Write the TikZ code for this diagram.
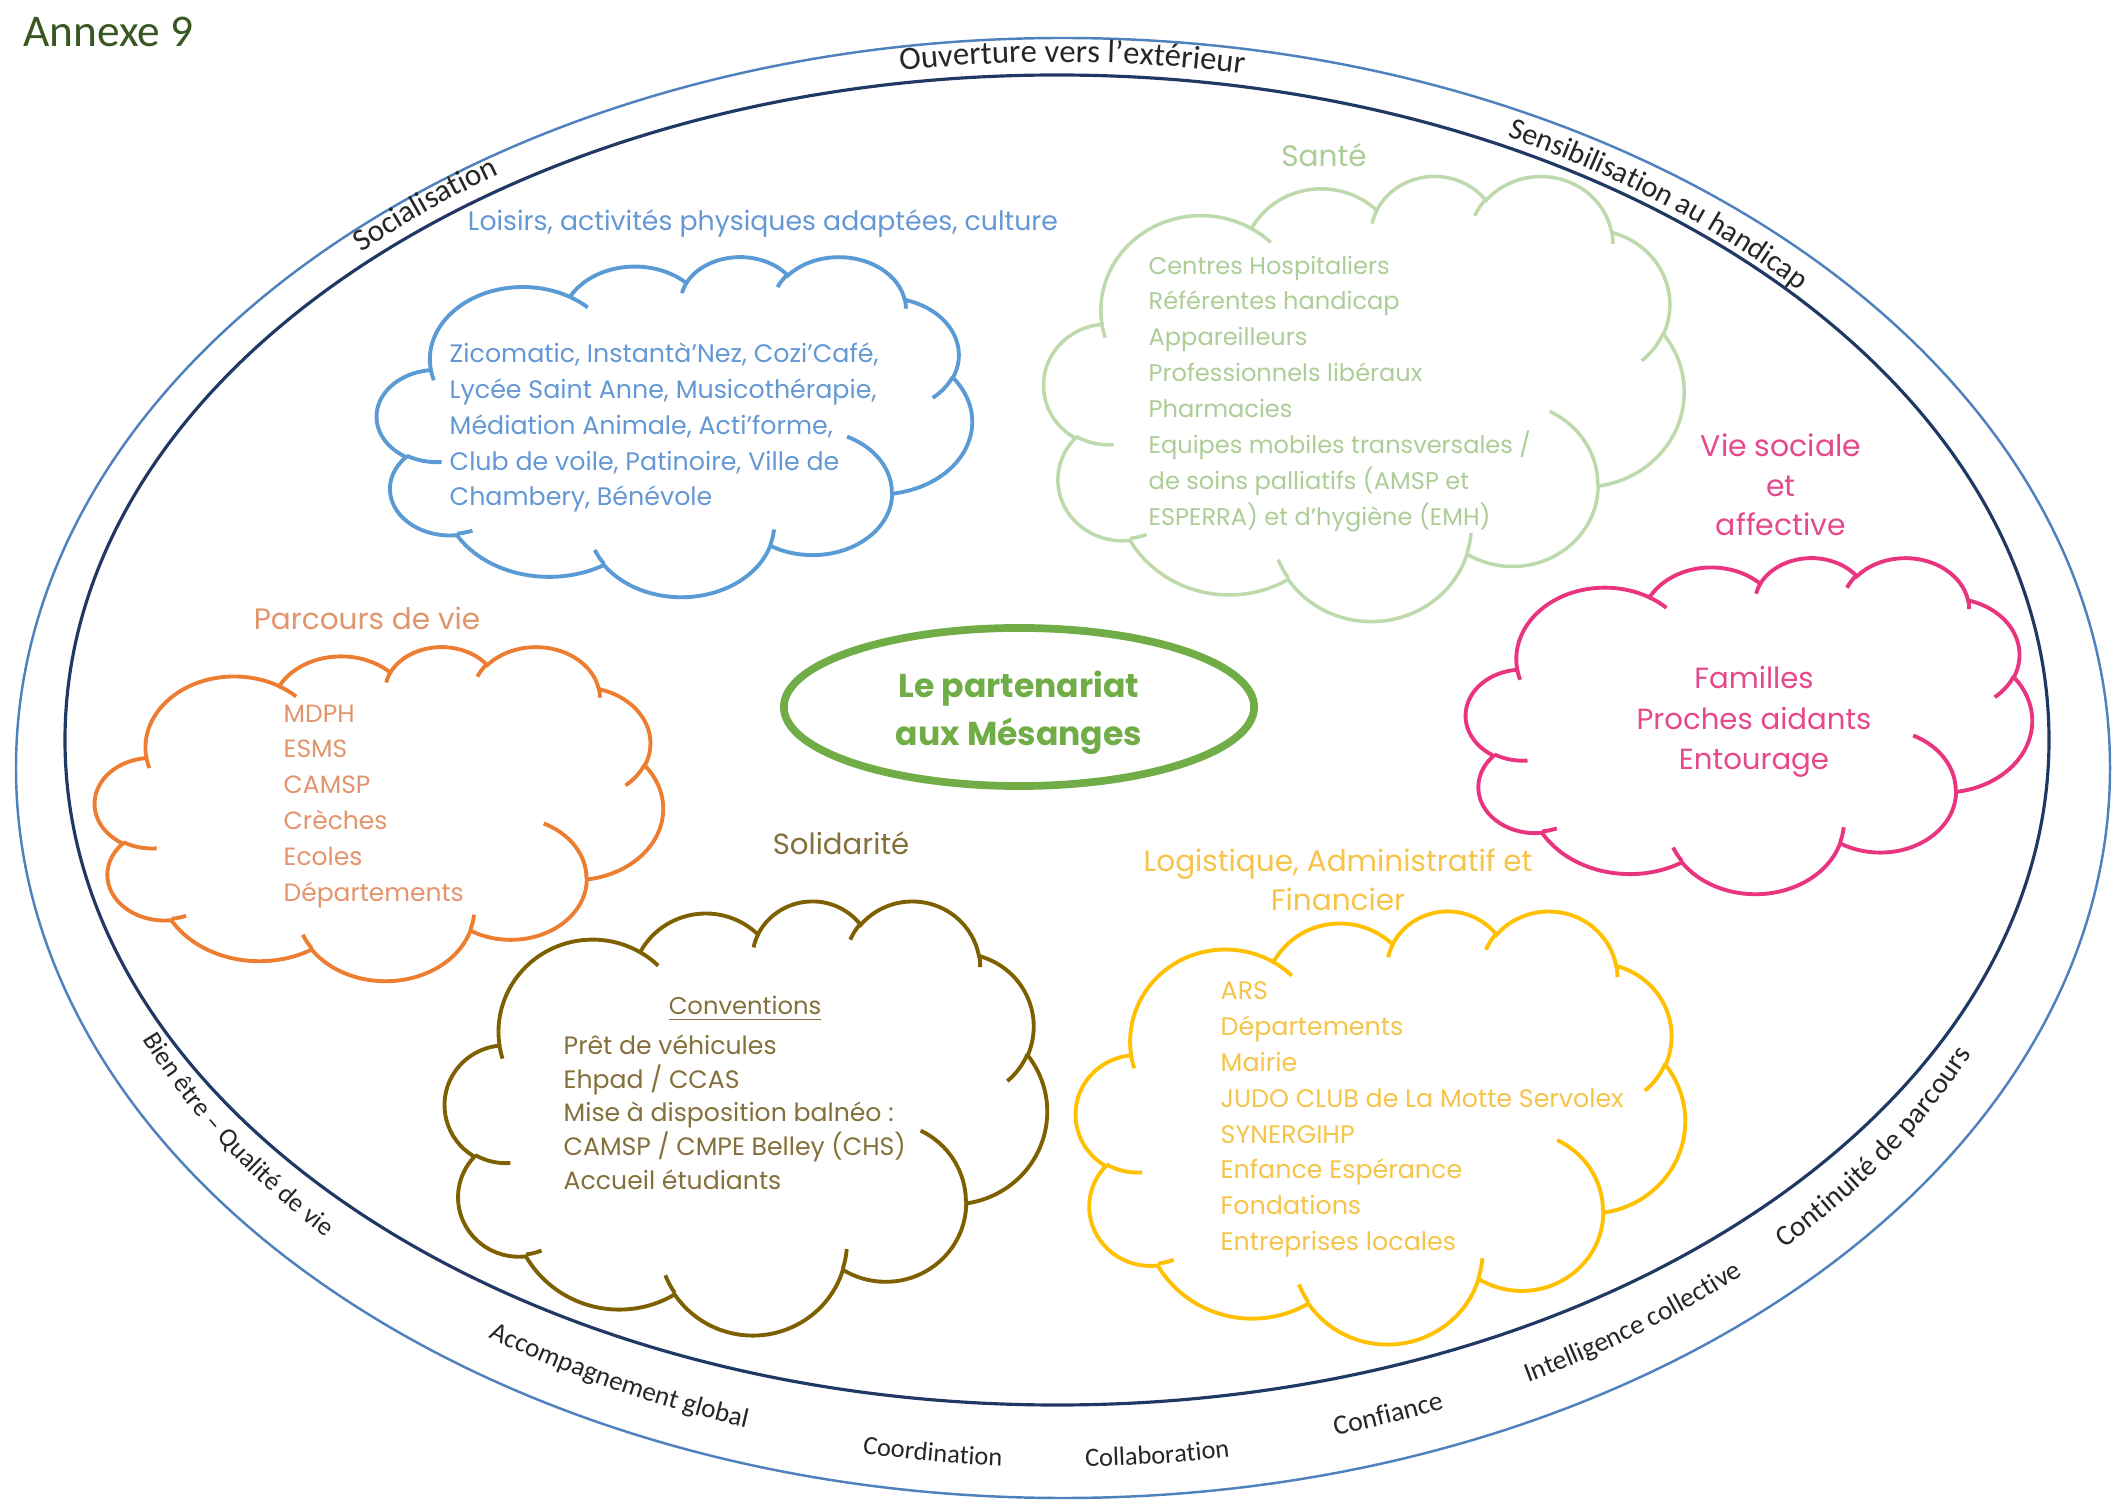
\documentclass[tikz,border=0pt]{standalone}
\usepackage{fontspec}
\setmainfont{Poppins}
\newfontfamily\cbf{Carlito}
\usetikzlibrary{decorations.text,shapes.geometric}

\definecolor{ringO}{RGB}{79,129,189}
\definecolor{ringI}{RGB}{31,56,100}
\definecolor{blueC}{RGB}{91,155,213}
\definecolor{blueT}{RGB}{100,152,212}
\definecolor{greenC}{RGB}{190,218,172}
\definecolor{greenT}{RGB}{172,205,150}
\definecolor{pinkC}{RGB}{233,52,128}
\definecolor{pinkT}{RGB}{230,72,140}
\definecolor{orangeC}{RGB}{237,125,49}
\definecolor{orangeT}{RGB}{226,148,108}
\definecolor{oliveC}{RGB}{127,96,0}
\definecolor{oliveT}{RGB}{132,112,58}
\definecolor{yellowC}{RGB}{255,192,0}
\definecolor{yellowT}{RGB}{245,196,72}
\definecolor{centerG}{RGB}{112,173,71}
\definecolor{annexG}{RGB}{56,87,35}

% visual (OOXML) angle -> parametric angle
\newcommand\defang[4]{%
  \pgfmathsetmacro\tmpA{atan2((#3)*sin(#2),(#4)*cos(#2))}%
  \pgfmathsetmacro\tmpB{\tmpA+360*round(((#2)-\tmpA)/360)}%
  \xdef#1{\tmpB}}
\defang\qsA{-190.48748}{6.753}{9.190}\defang\qeA{-66.70695}{6.753}{9.190}
\defang\qsB{-144.10238}{5.333}{7.267}\defang\qeB{-54.15715}{5.333}{7.267}
\defang\qsC{-145.80792}{4.365}{5.945}\defang\qeC{-46.08490}{4.365}{5.945}
\defang\qsD{-130.98607}{4.857}{6.595}\defang\qeD{-13.74434}{4.857}{6.595}
\defang\qsE{-78.70888}{5.333}{7.273}\defang\qeE{30.31804}{5.333}{7.273}
\defang\qsF{-46.26725}{6.775}{9.220}\defang\qeF{84.00175}{6.775}{9.220}
\defang\qsG{0.62502}{5.785}{7.867}\defang\qeG{114.65835}{5.785}{7.867}
\defang\qsH{22.45160}{6.752}{9.215}\defang\qeH{137.62415}{6.752}{9.215}
\defang\qsI{66.24263}{7.720}{10.543}\defang\qeI{141.95365}{7.720}{10.543}
\defang\qsJ{-274.94208}{4.360}{5.918}\defang\qeJ{-128.20651}{4.360}{5.918}
\defang\qsK{-246.82850}{4.345}{5.945}\defang\qeK{-94.30965}{4.345}{5.945}
\defang\hsA{86.74200}{4.345}{5.945}\defang\heA{113.17150}{4.345}{5.945}
\defang\hsB{73.61047}{4.360}{5.918}\defang\heB{85.05794}{4.360}{5.918}
\defang\hsC{137.62415}{6.752}{9.215}\defang\heC{151.70525}{6.752}{9.215}
\defang\hsD{6.45327}{6.752}{9.215}\defang\heD{22.45162}{6.752}{9.215}
\defang\hsE{-70.29235}{5.785}{7.867}\defang\heE{0.62502}{5.785}{7.867}
\defang\hsF{30.31803}{5.333}{7.273}\defang\heF{58.06953}{5.333}{7.273}
\defang\hsG{-13.74433}{4.857}{6.595}\defang\heG{1.11457}{4.857}{6.595}
\defang\hsH{-149.18145}{4.857}{6.595}\defang\heH{-130.98608}{4.857}{6.595}
\defang\hsI{-163.49427}{4.365}{5.945}\defang\heI{-145.80792}{4.365}{5.945}
\defang\hsJ{-66.70695}{6.753}{9.190}\defang\heJ{-54.38760}{6.753}{9.190}
\defang\hsK{157.65435}{6.753}{9.190}\defang\heK{169.51252}{6.753}{9.190}

% Office-style cloud: #1 x0, #2 y0, #3 width, #4 height, #5 style
\newcommand\officecloud[5]{%
  \pgfmathsetmacro\ocsx{#3/43.2}%
  \pgfmathsetmacro\ocsy{#4/43.2}%
  \begin{scope}[shift={(#1,#2)},xscale=\ocsx,yscale=\ocsy]
    \draw[#5,fill=white] (3.900,14.370)
      arc[start angle=\qsA,end angle=\qeA,x radius=6.753,y radius=9.190]
      arc[start angle=\qsB,end angle=\qeB,x radius=5.333,y radius=7.267]
      arc[start angle=\qsC,end angle=\qeC,x radius=4.365,y radius=5.945]
      arc[start angle=\qsD,end angle=\qeD,x radius=4.857,y radius=6.595]
      arc[start angle=\qsE,end angle=\qeE,x radius=5.333,y radius=7.273]
      arc[start angle=\qsF,end angle=\qeF,x radius=6.775,y radius=9.220]
      arc[start angle=\qsG,end angle=\qeG,x radius=5.785,y radius=7.867]
      arc[start angle=\qsH,end angle=\qeH,x radius=6.752,y radius=9.215]
      arc[start angle=\qsI,end angle=\qeI,x radius=7.720,y radius=10.543]
      arc[start angle=\qsJ,end angle=\qeJ,x radius=4.360,y radius=5.918]
      arc[start angle=\qsK,end angle=\qeK,x radius=4.345,y radius=5.945]
      -- cycle;
    \draw[#5]
      (4.693,26.177) arc[start angle=\hsA,end angle=\heA,x radius=4.345,y radius=5.945]
      (6.928,34.899) arc[start angle=\hsB,end angle=\heB,x radius=4.360,y radius=5.918]
      (16.478,39.090) arc[start angle=\hsC,end angle=\heC,x radius=6.752,y radius=9.215]
      (28.827,34.751) arc[start angle=\hsD,end angle=\heD,x radius=6.752,y radius=9.215]
      (34.129,22.954) arc[start angle=\hsE,end angle=\heE,x radius=5.785,y radius=7.867]
      (41.798,15.354) arc[start angle=\hsF,end angle=\heF,x radius=5.333,y radius=7.273]
      (38.324,5.426) arc[start angle=\hsG,end angle=\heG,x radius=4.857,y radius=6.595]
      (29.078,3.952) arc[start angle=\hsH,end angle=\heH,x radius=4.857,y radius=6.595]
      (22.141,4.720) arc[start angle=\hsI,end angle=\heI,x radius=4.365,y radius=5.945]
      (14.000,5.192) arc[start angle=\hsJ,end angle=\heJ,x radius=6.753,y radius=9.190]
      (4.127,15.789) arc[start angle=\hsK,end angle=\heK,x radius=6.753,y radius=9.190];
  \end{scope}}

% #1 centre angle, #2 +1 (top) / -1 (bottom), #3 half span (deg), #4 radial offset, #5 font size, #6 text
\newcommand\ringlabel[6]{%
  \pgfmathsetmacro\rlS{#1-(#2)*(#3)}%
  \pgfmathsetmacro\rlE{#1+(#2)*(#3)}%
  \pgfmathsetmacro\rlA{1000+(#4)}%
  \pgfmathsetmacro\rlB{700+(#4)}%
  \pgfmathsetmacro\rlX{1060+\rlA*cos(\rlS)}%
  \pgfmathsetmacro\rlY{766+\rlB*sin(\rlS)}%
  \path[decorate,decoration={text along path,text align=center,
      text={|\cbf\fontsize{#5}{11}\selectfont\color{black!85}|#6}}]
    (\rlX,\rlY) arc[start angle=\rlS,end angle=\rlE,x radius=\rlA,y radius=\rlB];}

\begin{document}
\begin{tikzpicture}[x=0.01cm,y=-0.01cm,
  bodyT/.style={inner sep=0pt,align=left,anchor=north west,font=\fontsize{7.1}{10.2}\selectfont},
  titleT/.style={inner sep=0pt,align=center,font=\fontsize{8.4}{11}\selectfont},
  cloudline/.style={line width=1.1pt}]
\fill[white] (0,0) rectangle (2112,1501);
\useasboundingbox (0,0) rectangle (2112,1501);

% rings
\draw[ringO,line width=0.7pt] (1063,768) ellipse [x radius=1047,y radius=730];
\draw[ringI,line width=0.9pt] (1057,740) ellipse [x radius=992,y radius=665];

\node[anchor=west,inner sep=0pt,font=\cbf\fontsize{12.9}{15}\selectfont,text=annexG] (annexe) at (23,32) {Annexe 9};

\ringlabel{231.1}{1}{10}{11}{8.9}{Socialisation}
\ringlabel{270.7}{1}{14}{4}{9.3}{Ouverture vers l’extérieur}
\ringlabel{307.2}{1}{14}{3}{8.6}{Sensibilisation au handicap}
\ringlabel{147.4}{-1}{13}{-3}{7.5}{Bien être – Qualité de vie}
\ringlabel{116.8}{-1}{12}{-3}{7.7}{Accompagnement global}
\ringlabel{97.4}{-1}{10}{1}{7.5}{Coordination}
\ringlabel{84.35}{-1}{10}{1}{7.5}{Collaboration}
\ringlabel{70.5}{-1}{10}{-3.5}{7.9}{Confiance}
\ringlabel{54.2}{-1}{12}{-2}{7.8}{Intelligence collective}
\ringlabel{33.7}{-1}{13}{0}{8.3}{Continuité de parcours}

% clouds
\officecloud{377}{256}{595}{340}{blueC,cloudline}
\officecloud{1044}{175}{640}{445}{greenC,line width=1pt}
\officecloud{95}{646}{568}{334}{orangeC,cloudline}
\officecloud{1466}{557}{566}{336}{pinkC,cloudline}
\officecloud{445}{900}{602}{434}{oliveC,cloudline}
\officecloud{1076}{910}{609}{433}{yellowC,cloudline}

% centre
\node[draw=centerG,line width=2.2pt,ellipse,minimum width=4.7cm,minimum height=1.58cm,inner sep=0pt] (centre) at (1019,707) {};
\node[inner sep=0pt,align=center,text=centerG,font=\bfseries\fontsize{9.4}{13.7}\selectfont] (centreT) at (1019,713) {Le partenariat\\aux Mésanges};

% titles
\node[titleT,text=blueT,font=\fontsize{7.6}{11}\selectfont] (loisirsH) at (763,224) {Loisirs, activités physiques adaptées, culture};
\node[titleT,text=greenT] (santeH) at (1324,155) {Santé};
\node[titleT,text=pinkT,font=\fontsize{8.5}{11.3}\selectfont] (vieH) at (1781,485) {Vie sociale\\et\\affective};
\node[titleT,text=orangeT] (parcoursH) at (367,618) {Parcours de vie};
\node[titleT,text=oliveT,font=\fontsize{8.3}{11}\selectfont] (solidH) at (841,843) {Solidarité};
\node[titleT,text=yellowT] (logH) at (1338,880) {Logistique, Administratif et\\Financier};

% contents
\node[bodyT,text=blueT,font=\fontsize{7.2}{10.2}\selectfont] (loisirsB) at (449,342) {Zicomatic, Instantà’Nez, Cozi’Café,\\Lycée Saint Anne, Musicothérapie,\\Médiation Animale, Acti’forme,\\Club de voile, Patinoire, Ville de\\Chambery, Bénévole};
\node[bodyT,text=greenT,font=\fontsize{6.85}{10.2}\selectfont] (santeB) at (1148,255) {Centres Hospitaliers\\Référentes handicap\\Appareilleurs\\Professionnels libéraux\\Pharmacies\\Equipes mobiles transversales /\\de soins palliatifs (AMSP et\\ESPERRA) et d’hygiène (EMH)};
\node[inner sep=0pt,align=center,text=pinkT,font=\fontsize{8.3}{11.5}\selectfont] (vieB) at (1754,722) {Familles\\Proches aidants\\Entourage};
\node[bodyT,text=orangeT] (parcoursB) at (283,704) {MDPH\\ESMS\\CAMSP\\Crèches\\Ecoles\\Départements};
\node[inner sep=0pt,text=oliveT,font=\fontsize{6.9}{9.6}\selectfont] (convH) at (745,1009) {\underline{Conventions}};
\node[bodyT,text=oliveT,font=\fontsize{7.15}{9.6}\selectfont] (solidB) at (563,1034) {Prêt de véhicules\\Ehpad / CCAS\\Mise à disposition balnéo :\\CAMSP / CMPE Belley (CHS)\\Accueil étudiants};
\node[bodyT,text=yellowT,font=\fontsize{7.2}{10.2}\selectfont] (logB) at (1220,981) {ARS\\Départements\\Mairie\\JUDO CLUB de La Motte Servolex\\SYNERGIHP\\Enfance Espérance\\Fondations\\Entreprises locales};
\end{tikzpicture}
\end{document}
